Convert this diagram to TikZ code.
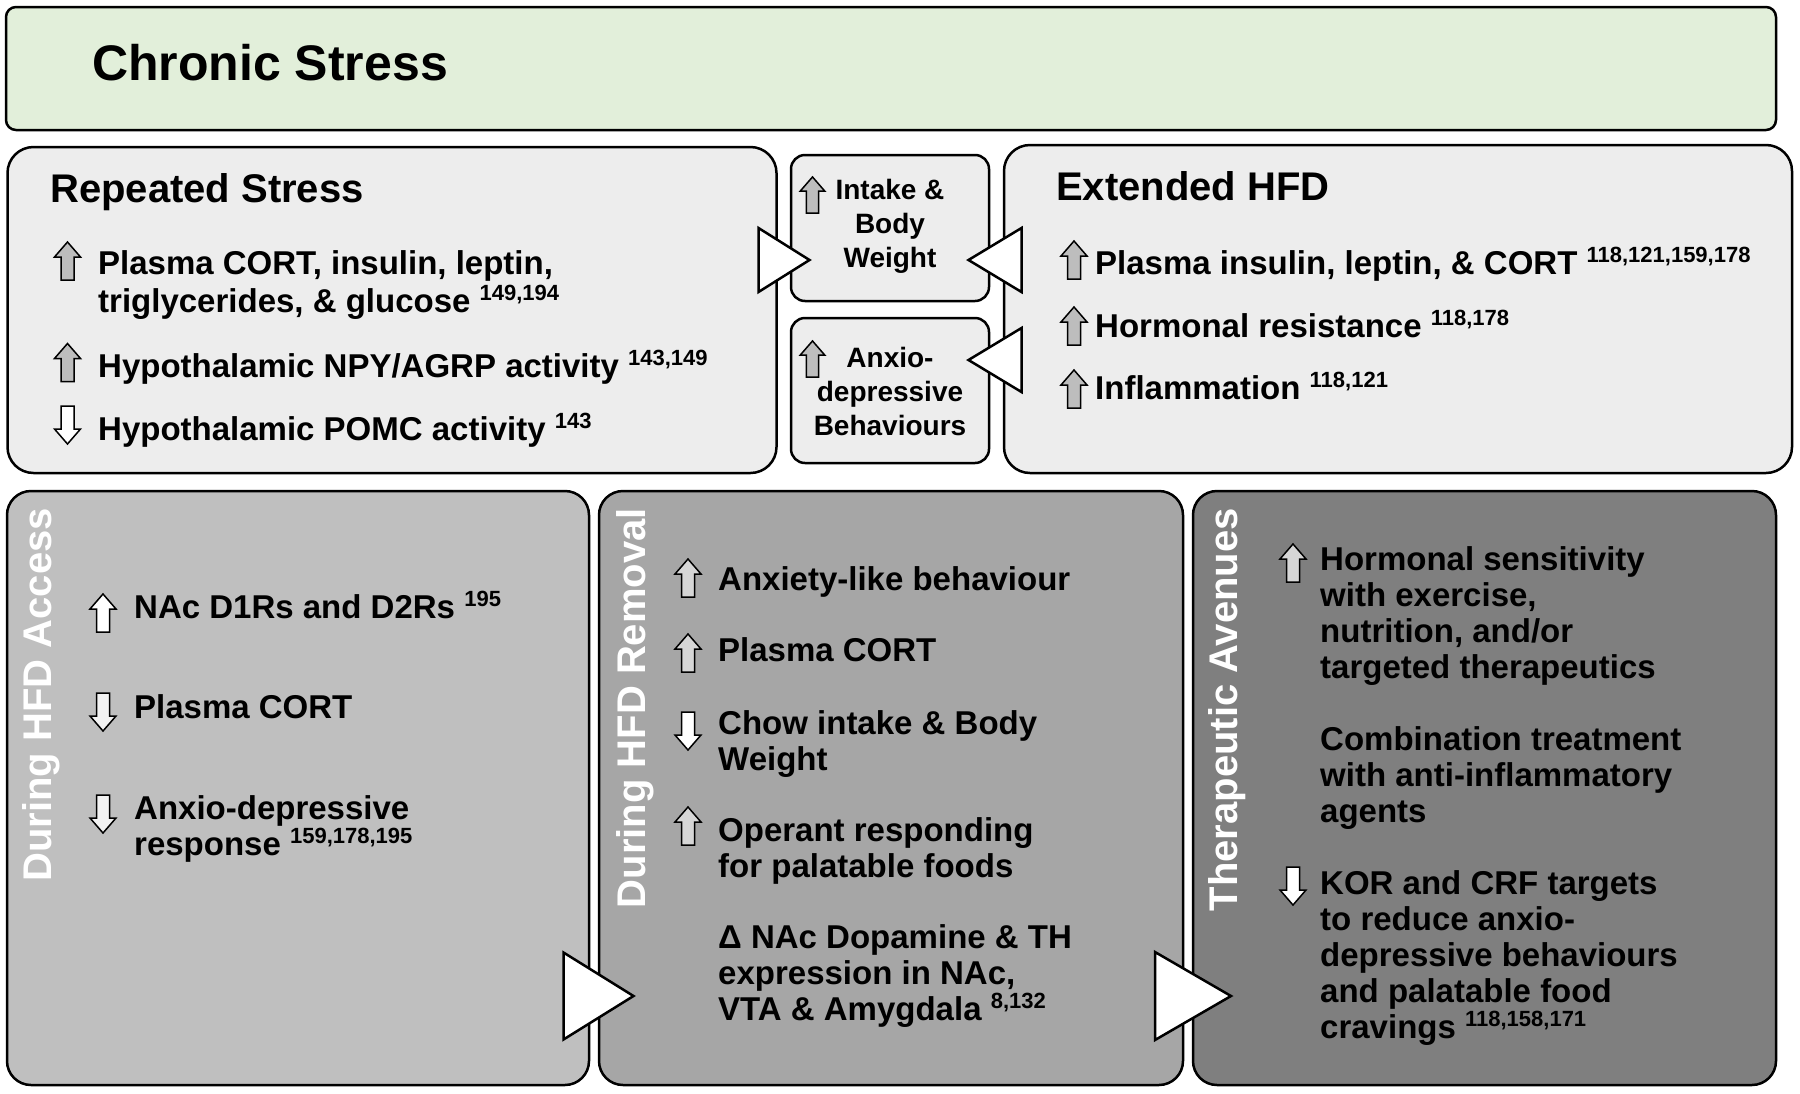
\documentclass[tikz,border=0pt]{standalone}
\usepackage{fontspec}
\setmainfont{Liberation Sans}
\usepackage{tikz}
\usetikzlibrary{shapes.geometric}

\definecolor{stressgreen}{HTML}{E2EFDA}
\definecolor{panelgrey}{HTML}{EDEDED}
\definecolor{accessgrey}{HTML}{BFBFBF}
\definecolor{removalgrey}{HTML}{A6A6A6}
\definecolor{therapygrey}{HTML}{7F7F7F}
\definecolor{arrowgrey}{HTML}{BDBDBD}
\definecolor{arrowlight}{HTML}{D6D6D6}
\definecolor{arrowpale}{HTML}{F2F2F2}

\newcommand{\refnum}[1]{\raisebox{12pt}[0pt][0pt]{\fontsize{22}{22}\selectfont #1}}

\begin{document}
\begin{tikzpicture}[
x=1pt, y=-1pt,
box/.style={draw, line width=2.5pt, rounded corners=26pt, inner sep=0pt, outer sep=0pt},
smallbox/.style={box, rounded corners=14pt},
flow/.style={isosceles triangle, isosceles triangle stretches, draw, fill=white, line width=2.5pt, inner sep=0pt, outer sep=0pt, anchor=apex},
title/.style={font=\fontsize{50}{56}\selectfont\bfseries, anchor=north west, inner sep=0pt, execute at begin node=\strut},
head/.style={font=\fontsize{40}{44}\selectfont\bfseries, anchor=north west, inner sep=0pt, execute at begin node=\strut},
item/.style={font=\fontsize{33}{38}\selectfont\bfseries, anchor=north west, align=left, inner sep=0pt, execute at begin node=\strut},
lowitem/.style={font=\fontsize{33}{36}\selectfont\bfseries, anchor=north west, align=left, inner sep=0pt, execute at begin node=\strut},
smalltext/.style={font=\fontsize{28}{34}\selectfont\bfseries, anchor=north, align=center, inner sep=0pt, execute at begin node=\strut},
side/.style={font=\fontsize{40}{44}\selectfont\bfseries, text=white, rotate=90, anchor=east, inner sep=0pt},
pics/uparr/.style={code={\draw[line width=1.5pt, fill=#1] (-6.5,19) -- (-6.5,-4) -- (-13,-4) -- (0,-19) -- (13,-4) -- (6.5,-4) -- (6.5,19) -- cycle;}},
pics/downarr/.style={code={\draw[line width=1.5pt, fill=#1] (-6.5,-19) -- (-6.5,4) -- (-13,4) -- (0,19) -- (13,4) -- (6.5,4) -- (6.5,-19) -- cycle;}}
]
\useasboundingbox (0,0) rectangle (1800,1093);

\node[box, rounded corners=10pt, fill=stressgreen, minimum width=1770, minimum height=123] (stress) at (891,68.5) {};
\node[box, fill=panelgrey, minimum width=769, minimum height=326] (rep) at (392,310) {};
\node[smallbox, fill=panelgrey, minimum width=198, minimum height=146] (intake) at (890,228) {};
\node[smallbox, fill=panelgrey, minimum width=198, minimum height=145] (anxio) at (890,390.5) {};
\node[box, fill=panelgrey, minimum width=788, minimum height=328] (ext) at (1398,309) {};
\node[box, rounded corners=24pt, fill=accessgrey, minimum width=582, minimum height=594] (access) at (298,788) {};
\node[box, rounded corners=24pt, fill=removalgrey, minimum width=584, minimum height=594] (removal) at (891,788) {};
\node[box, rounded corners=24pt, fill=therapygrey, minimum width=583, minimum height=594] (therapy) at (1484.5,788) {};

\node[flow, minimum height=51, minimum width=64] (f1) at (809.5,260) {};
\node[flow, shape border rotate=180, minimum height=53, minimum width=64] (f2) at (968.5,260) {};
\node[flow, shape border rotate=180, minimum height=53, minimum width=64] (f3) at (968.5,360) {};
\node[flow, minimum height=70, minimum width=87] (f4) at (633.5,996) {};
\node[flow, minimum height=76, minimum width=88] (f5) at (1231,996) {};

\node[title] (chronic) at (92,41) {Chronic Stress};

\node[head] (rephead) at (50,171.5) {Repeated Stress};
\node[item] (r1) at (98,250) {Plasma CORT, insulin, leptin,\\triglycerides, \& glucose \refnum{149,194}};
\node[item] (r2) at (98,351) {Hypothalamic NPY/AGRP activity \refnum{143,149}};
\node[item] (r3) at (98,414) {Hypothalamic POMC activity \refnum{143}};
\pic at (67.5,261) {uparr=arrowgrey};
\pic at (67.5,362.5) {uparr=arrowgrey};
\pic at (67.5,425) {downarr=white};

\node[smalltext] (intaketext) at (890,179.5) {Intake \&\\Body\\Weight};
\node[smalltext] (anxiotext) at (890,347.5) {Anxio-\\depressive\\Behaviours};
\pic[scale=0.95] at (812.5,195) {uparr=arrowgrey};
\pic[scale=0.95] at (812.5,359) {uparr=arrowgrey};

\node[head] (exthead) at (1056,169.5) {Extended HFD};
\node[item] (e1) at (1095,247.7) {Plasma insulin, leptin, \& CORT \refnum{118,121,159,178}};
\node[item] (e2) at (1095,311) {Hormonal resistance \refnum{118,178}};
\node[item] (e3) at (1095,372.7) {Inflammation \refnum{118,121}};
\pic at (1074,260) {uparr=arrowgrey};
\pic at (1074,326) {uparr=arrowgrey};
\pic at (1074,389) {uparr=arrowgrey};

\node[side] (accesshead) at (41.5,508) {During HFD Access};
\node[lowitem] (a1) at (134,593) {NAc D1Rs and D2Rs \refnum{195}};
\node[lowitem] (a2) at (134,693) {Plasma CORT};
\node[lowitem] (a3) at (134,795) {Anxio-depressive\\response \refnum{159,178,195}};
\pic at (103,613) {uparr=white};
\pic at (103,712) {downarr=arrowpale};
\pic at (103,814) {downarr=arrowpale};

\node[side] (removalhead) at (635.5,508) {During HFD Removal};
\node[lowitem] (m1) at (718,565) {Anxiety-like behaviour};
\node[lowitem] (m2) at (718,636) {Plasma CORT};
\node[lowitem] (m3) at (718,710) {Chow intake \& Body\\Weight};
\node[lowitem] (m4) at (718,817) {Operant responding\\for palatable foods};
\node[lowitem] (m5) at (718,924) {Δ NAc Dopamine \& TH\\expression in NAc,\\VTA \& Amygdala \refnum{8,132}};
\pic at (688,578) {uparr=arrowlight};
\pic at (688,653) {uparr=arrowlight};
\pic at (688,731) {downarr=white};
\pic at (688,826) {uparr=arrowlight};

\node[side] (therapyhead) at (1227,508) {Therapeutic Avenues};
\node[lowitem] (t1) at (1320,546) {Hormonal sensitivity\\with exercise,\\nutrition, and/or\\targeted therapeutics};
\node[lowitem] (t2) at (1320,726) {Combination treatment\\with anti-inflammatory\\agents};
\node[lowitem] (t3) at (1320,870) {KOR and CRF targets\\to reduce anxio-\\depressive behaviours\\and palatable food\\cravings \refnum{118,158,171}};
\pic at (1293,563) {uparr=arrowlight};
\pic at (1293,886) {downarr=white};

\end{tikzpicture}
\end{document}
